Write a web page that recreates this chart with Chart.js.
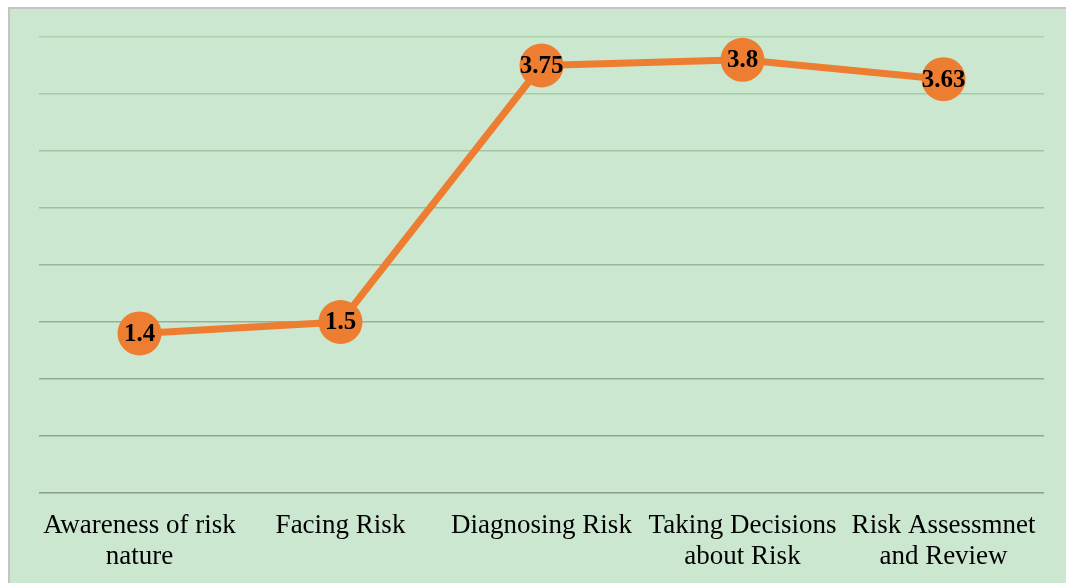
<!DOCTYPE html>
<html>
<head>
<meta charset="utf-8">
<script src="https://cdn.jsdelivr.net/npm/chart.js@4/dist/chart.umd.min.js"></script>
<style>
  html, body { margin: 0; padding: 0; background: #ffffff; overflow: hidden; }
  #wrap {
    position: absolute; left: 8px; top: 7px;
    width: 1058px; height: 576px;
    background: #cce7cf;
    border-left: 2px solid #c4c4c4;
    border-top: 2px solid #c4c4c4;
    overflow: hidden;
  }
  canvas { display: block; }
</style>
</head>
<body>
<div id="wrap"><canvas id="chart" width="1056" height="580"></canvas></div>
<script>
// categories and values
var categories = [
    ['Awareness of risk', 'nature'],
    'Facing Risk',
    'Diagnosing Risk',
    ['Taking Decisions', 'about Risk'],
    ['Risk Assessmnet', 'and Review']
];
var scores = [1.4, 1.5, 3.75, 3.8, 3.63];
var valueLabels = ['1.4', '1.5', '3.75', '3.8', '3.63'];

var orange = '#ed7d31';

// write the value on top of each dot
var pointLabels = {
    id: 'pointLabels',
    afterDatasetsDraw: function(chart) {
        var ctx = chart.ctx;
        var meta = chart.getDatasetMeta(0);
        ctx.save();
        ctx.font = 'bold 25px "Liberation Serif", "Times New Roman", serif';
        ctx.fillStyle = '#000000';
        ctx.textAlign = 'center';
        ctx.textBaseline = 'middle';
        meta.data.forEach(function(pt, i) {
            ctx.fillText(valueLabels[i], pt.x, pt.y + 1);
        });
        ctx.restore();
    }
};

function gridColor(c) {
    // greenish lines near the top, greyer lines near the bottom
    var v = c.tick ? c.tick.value : 0;
    var t = v / 4;
    var r = Math.round(138 + (168 - 138) * t);
    var g = Math.round(156 + (212 - 156) * t);
    var b = Math.round(138 + (170 - 138) * t);
    return 'rgb(' + r + ',' + g + ',' + b + ')';
}

var ctx = document.getElementById('chart').getContext('2d');
new Chart(ctx, {
    type: 'line',
    data: {
        labels: categories,
        datasets: [{
            label: 'Score',
            data: scores,
            borderColor: orange,
            backgroundColor: orange,
            borderWidth: 7,
            tension: 0,
            pointRadius: 22,
            pointHoverRadius: 22,
            pointBackgroundColor: orange,
            pointBorderWidth: 0
        }]
    },
    options: {
        responsive: false,
        animation: false,
        layout: { padding: { left: 29, right: 11, top: 28, bottom: 0 } },
        plugins: {
            legend: { display: false },
            tooltip: { enabled: false }
        },
        scales: {
            x: {
                offset: true,
                grid: { display: false, drawTicks: false },
                border: { display: false },
                ticks: {
                    padding: 17,
                    maxRotation: 0,
                    autoSkip: false,
                    color: '#000000',
                    font: { family: '"Liberation Serif", "Times New Roman", serif', size: 27, lineHeight: '31px' }
                }
            },
            y: {
                min: 0,
                max: 4,
                ticks: { display: false, stepSize: 0.5 },
                grid: { color: gridColor, lineWidth: 1.5, drawTicks: false },
                border: { display: false }
            }
        },
        clip: false
    },
    plugins: [pointLabels]
});
</script>
</body>
</html>
